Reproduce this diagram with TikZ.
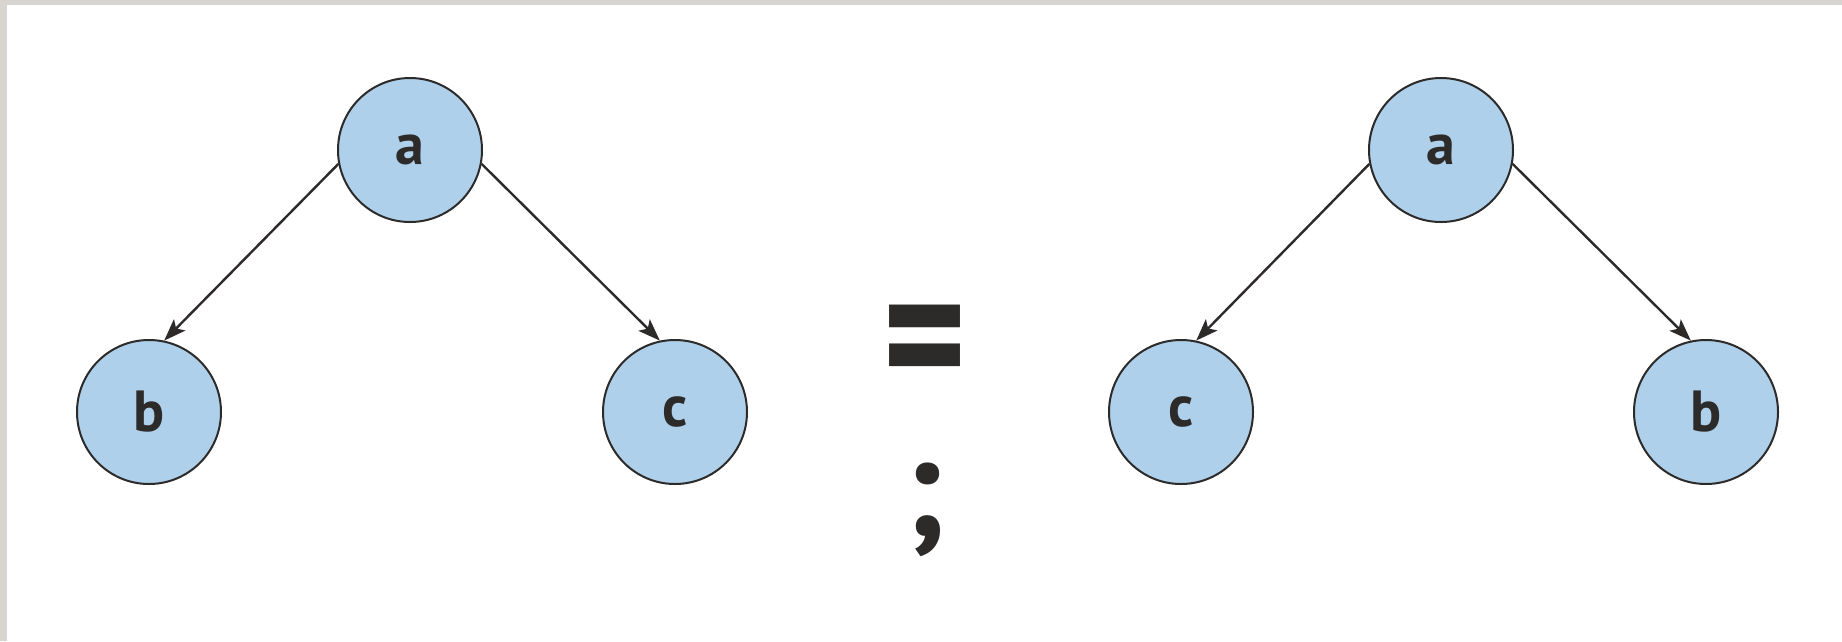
\documentclass[tikz,border=0pt]{standalone}
\usepackage{fontspec}
\setmainfont{PT Sans}
\newfontfamily\symfont{Fira Sans}
\usetikzlibrary{arrows.meta}
\definecolor{nodeblue}{RGB}{174,208,234}
\definecolor{edgegray}{RGB}{45,42,42}
\definecolor{framegray}{RGB}{216,213,208}
\tikzset{
  treenode/.style={circle, draw=edgegray, line width=2pt, fill=nodeblue, minimum size=144pt, inner sep=0pt, font=\fontsize{58}{66}\selectfont\bfseries, text=edgegray},
  treeedge/.style={draw=edgegray, line width=2.4pt, -{Stealth[length=22pt,width=16pt,inset=5pt]}},
  bigsym/.style={inner sep=0pt, text=edgegray, font=\fontsize{120}{130}\selectfont\bfseries}
}
\begin{document}
\begin{tikzpicture}[x=1pt,y=-1pt]
\fill[framegray] (0,0) rectangle (1842,641);
\fill[white] (7,5) rectangle (1842,641);
\useasboundingbox (0,0) rectangle (1842,641);
% left tree
\node[treenode] (la) at (410,150) {a};
\node[treenode] (lb) at (149,412) {b};
\node[treenode] (lc) at (675,412) {c};
\draw[treeedge] (la.191) -- (lb.78);
\draw[treeedge] (la.-11) -- (lc.102);
% right tree
\node[treenode] (ra) at (1441,150) {a};
\node[treenode] (rc) at (1181,412) {c};
\node[treenode] (rb) at (1706,412) {b};
\draw[treeedge] (ra.191) -- (rc.78);
\draw[treeedge] (ra.-11) -- (rb.102);
% symbols
\node[bigsym] (eq) at (925,351) {\symfont\scalebox{1.4}[1.55]{=}};
\node[bigsym, anchor=north] (semi) at (925,463) {\scalebox{1.2}{;}};
\end{tikzpicture}
\end{document}
